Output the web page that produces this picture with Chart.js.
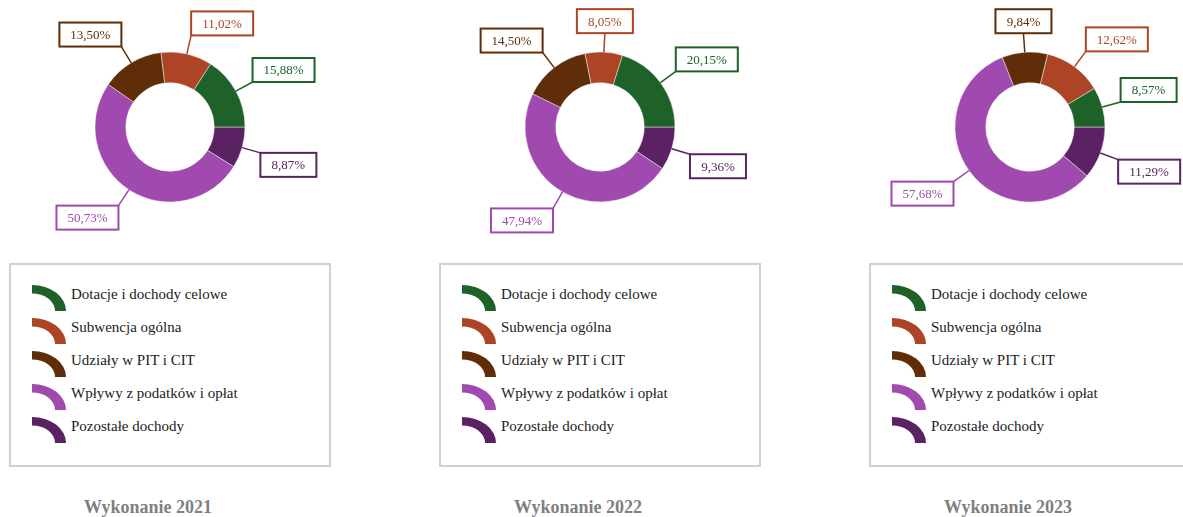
<!DOCTYPE html>
<html>
<head>
<meta charset="utf-8">
<title>Struktura dochodów</title>
<script src="https://cdn.jsdelivr.net/npm/chart.js@4.4.1/dist/chart.umd.min.js"></script>
<style>
  body { margin: 0; width: 1183px; height: 517px; overflow: hidden; background: #fff;
         font-family: "Liberation Serif", "Times New Roman", serif; position: relative; }
  .panel { position: absolute; top: 0; width: 430px; height: 517px; }
  .panel canvas.donut { position: absolute; left: 0; top: 0; }
  .legend { position: absolute; left: 9px; top: 263px; width: 318px; height: 200px; border: 2px solid #d0d0d0; }
  .item { position: absolute; left: 20px; width: 290px; height: 27px; }
  .item canvas { position: absolute; left: 0; top: 0; }
  .item span { position: absolute; left: 40px; top: 0; font-family: "Liberation Serif", serif; font-size: 15px;
               line-height: 18px; color: #222; white-space: nowrap; }
  .title { position: absolute; left: 0; top: 497px; width: 296px; text-align: center; line-height: 20px;
           font-family: "Liberation Serif", serif; font-weight: bold; font-size: 18px; color: #7f7f7f; }
</style>
</head>
<body>

<script>
// Data
const categories = ['Dotacje i dochody celowe', 'Subwencja ogólna', 'Udziały w PIT i CIT', 'Wpływy z podatków i opłat', 'Pozostałe dochody'];
const years = ['2021', '2022', '2023'];
const share2021 = [15.88, 11.02, 13.50, 50.73, 8.87];
const share2022 = [20.15, 8.05, 14.50, 47.94, 9.36];
const share2023 = [8.57, 12.62, 9.84, 57.68, 11.29];
const colors = ['#1e6129', '#ad4426', '#5f2e08', '#a049ae', '#5a2263'];

const shares = [share2021, share2022, share2023];

// format 15.88 -> "15,88%"
function fmt(v) {
  return v.toFixed(2).replace('.', ',') + '%';
}

// Callout labels (box + leader line) drawn after the arcs
const calloutPlugin = {
  id: 'callouts',
  afterDatasetsDraw(chart) {
    const ctx = chart.ctx;
    const meta = chart.getDatasetMeta(0);
    const data = chart.data.datasets[0].data;
    const cols = chart.data.datasets[0].backgroundColor;
    ctx.save();
    ctx.font = '13px "Liberation Serif", "Times New Roman", serif';
    meta.data.forEach((arc, i) => {
      const p = arc.getProps(['x', 'y', 'startAngle', 'endAngle', 'outerRadius'], true);
      const mid = (p.startAngle + p.endAngle) / 2;
      const dx = Math.cos(mid), dy = Math.sin(mid);
      const ex = p.x + p.outerRadius * dx, ey = p.y + p.outerRadius * dy;
      const px = ex + 19 * dx, py = ey + 19 * dy;
      const text = fmt(data[i]);
      const w = Math.round(ctx.measureText(text).width) + 22;
      const h = 24;
      let left;
      if (Math.abs(dx) < 0.15) left = px - w / 2;
      else if (dx > 0) left = px;
      else left = px - w;
      const top = dy < 0 ? py - h : py;

      // leader line
      ctx.strokeStyle = cols[i];
      ctx.lineWidth = 1.5;
      ctx.beginPath();
      ctx.moveTo(ex, ey);
      ctx.lineTo(px, py);
      ctx.stroke();

      // box
      ctx.fillStyle = '#fff';
      ctx.fillRect(left, top, w, h);
      ctx.lineWidth = 2;
      ctx.strokeRect(left, top, w, h);

      // text
      ctx.fillStyle = cols[i];
      ctx.textAlign = 'center';
      ctx.textBaseline = 'middle';
      ctx.fillText(text, left + w / 2, top + h / 2 + 1);
    });
    ctx.restore();
  }
};

// legend icon: quarter of a flattened ring
function drawIcon(canvas, color) {
  const c = canvas.getContext('2d');
  c.save();
  c.scale(1, 26 / 34);
  c.beginPath();
  c.arc(1, 34, 34, -Math.PI / 2, 0);
  c.arc(1, 34, 23, 0, -Math.PI / 2, true);
  c.closePath();
  c.fillStyle = color;
  c.fill();
  c.restore();
}

function buildPanel(idx) {
  const panel = document.createElement('div');
  panel.className = 'panel';
  panel.style.left = (idx * 430) + 'px';
  document.body.appendChild(panel);

  const canvas = document.createElement('canvas');
  canvas.className = 'donut';
  canvas.width = 430;
  canvas.height = 254;
  panel.appendChild(canvas);

  // drawn clockwise from 3 o'clock, so reverse to get the counter-clockwise order of the original
  const vals = shares[idx].slice().reverse();
  const cols = colors.slice().reverse();
  const labels = categories.slice().reverse();

  new Chart(canvas, {
    type: 'doughnut',
    data: {
      labels: labels,
      datasets: [{
        data: vals,
        backgroundColor: cols,
        borderColor: 'rgba(255,255,255,0.45)',
        borderWidth: 1
      }]
    },
    options: {
      responsive: false,
      animation: false,
      rotation: 90,
      radius: 75,
      cutout: '59%',
      layout: { padding: { left: 0, right: 90, top: 52, bottom: 52 } },
      plugins: { legend: { display: false }, tooltip: { enabled: false } }
    },
    plugins: [calloutPlugin]
  });

  // legend box
  const legend = document.createElement('div');
  legend.className = 'legend';
  categories.forEach((name, i) => {
    const item = document.createElement('div');
    item.className = 'item';
    item.style.top = (20 + i * 33) + 'px';
    const ic = document.createElement('canvas');
    ic.width = 36;
    ic.height = 27;
    drawIcon(ic, colors[i]);
    const span = document.createElement('span');
    span.textContent = name;
    item.appendChild(ic);
    item.appendChild(span);
    legend.appendChild(item);
  });
  panel.appendChild(legend);

  const title = document.createElement('div');
  title.className = 'title';
  title.textContent = 'Wykonanie ' + years[idx];
  panel.appendChild(title);
}

years.forEach((y, i) => buildPanel(i));
</script>
</body>
</html>
